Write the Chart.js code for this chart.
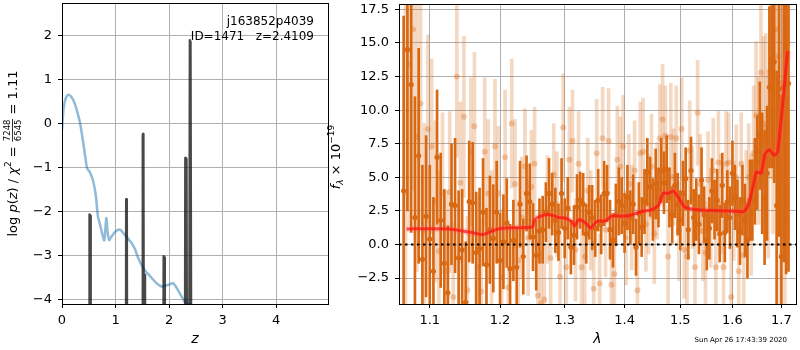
<!DOCTYPE html>
<html><head><meta charset="utf-8">
<script src="https://cdn.jsdelivr.net/npm/chart.js@4.4.1/dist/chart.umd.min.js"></script>
<style>
html,body{margin:0;padding:0;background:#fff;width:800px;height:350px;overflow:hidden;}
#c1{position:absolute;left:0;top:0;}
#c2{position:absolute;left:325px;top:0;}
</style></head><body>
<canvas id="c1" width="340" height="350"></canvas>
<canvas id="c2" width="475" height="350"></canvas>
<script>
// ---------------- data: left panel (redshift PDF) ----------------
const zTicks = [0, 1, 2, 3, 4];
const logpTicks = [-4, -3, -2, -1, 0, 1, 2];
const Z_MIN = 0, Z_MAX = 4.97, LOGP_MIN = -4.11, LOGP_MAX = 2.75;

const priorZ = [0.0,0.03,0.07,0.12,0.18,0.24,0.30,0.34,0.39,0.44,0.47,0.52,0.58,0.63,0.67,0.71,0.76,0.79,0.81,0.83,0.85,0.88,0.92,0.97,1.03,1.09,1.15,1.22,1.30,1.36,1.42,1.50,1.57,1.63,1.70,1.77,1.84,1.90,1.96,2.02,2.07,2.12,2.18,2.24,2.30,2.36,2.45];
const priorLogP = [-0.15,0.35,0.58,0.66,0.60,0.45,0.20,0.0,-0.38,-0.80,-1.02,-1.10,-1.30,-1.62,-2.10,-2.30,-2.55,-2.66,-2.40,-2.15,-2.45,-2.65,-2.58,-2.50,-2.43,-2.42,-2.50,-2.60,-2.72,-2.85,-3.05,-3.25,-3.38,-3.45,-3.55,-3.64,-3.70,-3.71,-3.68,-3.66,-3.63,-3.70,-3.82,-3.95,-4.07,-4.10,-4.15];

const pzZ = [0.0,0.505,0.515,0.525,0.535,1.19,1.20,1.21,1.225,1.495,1.51,1.52,1.535,1.55,1.56,1.885,1.90,1.91,1.92,1.93,2.29,2.305,2.315,2.325,2.345,2.37,2.39,2.40,2.425,4.97];
const pzLogP = [-12,-12,-2.07,-2.10,-12,-12,-1.72,-1.76,-12,-12,-0.25,-0.23,-12,-3.45,-12,-12,-3.02,-3.05,-3.70,-12,-12,-0.78,-1.25,-0.80,-12,-12,1.90,1.86,-12,-12];

const fieldName = 'j163852p4039';
const idLabel = 'ID=1471   z=2.4109';
const chi2Num = '7248', chi2Den = '6545', chi2Ratio = '1.11';

// ---------------- data: right panel (spectrum) ----------------
const lamTicks = [1.1, 1.2, 1.3, 1.4, 1.5, 1.6, 1.7];
const fluxTicks = [-2.5, 0, 2.5, 5, 7.5, 10, 12.5, 15, 17.5];
const LAM_MIN = 1.0589, LAM_MAX = 1.731, FLUX_MIN = -4.43, FLUX_MAX = 17.9;
const zeroLevel = 0;

const darkWave = [1.065,1.070,1.075,1.080,1.085,1.090,1.095,1.100,1.105,1.110,
1.115,1.120,1.125,1.130,1.135,1.140,1.145,1.150,1.155,1.160,
1.165,1.170,1.175,1.180,1.185,1.190,1.195,1.200,1.205,1.210,
1.215,1.220,1.225,1.230,1.235,1.240,1.245,1.250,1.255,1.260,
1.265,1.270,1.275,1.280,1.285,1.290,1.295,1.300,1.305,1.310,
1.315,1.320,1.325,1.330,1.335,1.340,1.345,1.350,1.355,1.360,
1.365,1.370,1.375,1.380,1.385,1.390,1.395,1.400,1.405,1.410,
1.415,1.420,1.425,1.430,1.435,1.440,1.445,1.450,1.455,1.460,
1.465,1.470,1.475,1.480,1.485,1.490,1.495,1.500,1.505,1.510,
1.515,1.520,1.525,1.530,1.535,1.540,1.545,1.550,1.555,1.560,
1.565,1.570,1.575,1.580,1.585,1.590,1.595,1.600,1.605,1.610,
1.615,1.620,1.625,1.630,1.635,1.640,1.645,1.650,1.655,1.660,
1.665,1.670,1.675,1.680,1.685,1.690,1.695,1.700,1.705,1.710,
1.715];
const darkFlux = [4.0,14.5,11.9,2.0,6.6,-1.1,2.1,0.4,-2.0,6.5,
1.8,-1.4,-3.6,3.0,2.9,-1.0,-0.4,-4.3,3.2,3.1,
-0.6,-0.3,2.4,-1.5,1.1,0.45,2.4,-1.2,0.2,1.6,
-1.8,0.3,-1.7,3.0,-0.9,3.8,3.2,0.55,-0.8,1.0,
1.1,2.4,3.8,3.0,1.8,0.9,3.8,1.2,2.7,-0.2,
0.7,2.8,3.3,3.0,0.8,2.4,2.0,1.2,3.3,1.5,
3.8,3.8,1.1,0.3,2.2,3.2,2.9,1.6,3.5,2.0,
3.0,-0.2,2.3,1.3,3.2,5.4,4.3,2.6,4.5,3.5,
5.5,4.6,5.6,3.5,2.2,4.4,3.0,1.8,3.8,4.9,
1.1,5.5,2.0,2.6,1.5,4.8,2.2,0.3,1.2,4.0,
2.6,3.3,0.8,4.4,0.9,3.2,2.0,5.3,3.5,2.3,
1.0,3.3,1.8,0.3,3.3,3.3,4.7,6.1,8.1,5.3,
3.5,5.3,11.7,13.7,13.6,2.9,11.6,-0.9,11.7,10.8,
12.0];
const darkErr = [13,12,11,9,8,7,6,5.5,5.5,5,
5,5.5,5,4.5,5,5,4.5,4.5,4.5,4.5,
4.5,4.5,4,4.2,4,4,3.8,3.5,3.5,3.3,
3.3,3.0,3.0,3.2,2.8,2.8,2.8,2.5,2.6,2.4,
2.5,2.2,2.6,2.3,2.4,2.1,2.6,2.2,2.3,2.0,
2.2,2.4,2.1,2.3,2.2,2.0,2.4,2.1,2.3,2.2,
2.4,2.1,2.2,2.0,2.3,2.5,2.1,2.2,2.4,2.0,
2.2,2.1,2.3,2.2,2.4,2.5,2.2,2.3,2.6,2.2,
2.4,2.3,2.5,2.2,2.1,2.4,2.3,2.2,2.4,2.3,
2.2,2.5,2.1,2.3,2.2,2.4,2.1,2.2,2.3,2.4,
2.2,2.3,2.1,2.4,2.2,2.3,2.3,2.4,2.4,2.5,
2.5,2.6,2.7,2.8,3.0,3.0,3.2,3.5,4,4.5,
5,5,6,8,9,10,11,12,13,13,
14];

const lightWave = [1.0675,1.0725,1.0775,1.0825,1.0875,1.0925,1.0975,1.1025,1.1075,1.1125,
1.1175,1.1225,1.1275,1.1325,1.1375,1.1425,1.1475,1.1525,1.1575,1.1625,
1.1675,1.1725,1.1775,1.1825,1.1875,1.1925,1.1975,1.2025,1.2075,1.2125,
1.2175,1.2225,1.2275,1.2325,1.2375,1.2425,1.2475,1.2525,1.2575,1.2625,
1.2675,1.2725,1.2775,1.2825,1.2875,1.2925,1.2975,1.3025,1.3075,1.3125,
1.3175,1.3225,1.3275,1.3325,1.3375,1.3425,1.3475,1.3525,1.3575,1.3625,
1.3675,1.3725,1.3775,1.3825,1.3875,1.3925,1.3975,1.4025,1.4075,1.4125,
1.4175,1.4225,1.4275,1.4325,1.4375,1.4425,1.4475,1.4525,1.4575,1.4625,
1.4675,1.4725,1.4775,1.4825,1.4875,1.4925,1.4975,1.5025,1.5075,1.5125,
1.5175,1.5225,1.5275,1.5325,1.5375,1.5425,1.5475,1.5525,1.5575,1.5625,
1.5675,1.5725,1.5775,1.5825,1.5875,1.5925,1.5975,1.6025,1.6075,1.6125,
1.6175,1.6225,1.6275,1.6325,1.6375,1.6425,1.6475,1.6525,1.6575,1.6625,
1.6675,1.6725,1.6775,1.6825,1.6875,1.6925,1.6975,1.7025,1.7075,1.7125];
const lightFlux = [3.9,13.4,16.0,8.0,10.5,1.0,8.6,7.3,3.2,-0.5,
3.8,-2.0,3.9,-3.9,12.5,4.6,9.5,-3.4,6.9,8.8,
-1.7,-3.5,6.9,3.8,0.5,7.3,3.8,-2.4,6.5,-3.2,
9.0,4.5,-1.2,2.0,5.8,0.5,4.3,6.0,-3.8,-4.4,
-4.1,2.6,-1.0,5.2,3.0,-2.4,8.7,-1.7,6.3,7.7,
-0.4,6.0,-1.7,-0.9,4.0,1.8,-3.3,6.8,-2.9,7.9,
1.1,7.7,-3.0,-2.2,6.3,5.8,7.3,0.5,4.5,2.0,
5.5,-3.4,6.8,6.9,1.5,3.0,5.8,0.8,4.0,7.9,
9.3,8.1,-0.9,8.0,5.0,7.9,1.0,8.6,-0.4,-0.9,
7.0,3.5,-1.7,9.8,4.5,1.0,-0.6,4.8,2.0,5.5,
-1.7,6.1,3.0,-1.7,6.0,6.1,-3.9,2.5,5.0,-2.0,
6.0,-0.8,3.0,5.0,2.2,6.8,9.6,7.0,12.8,9.0,
8.7,6.0,12.9,9.8,16.0,14.0,7.0,12.0,5.0,15.0];
const lightErr = [14,12,12,10,9,8,7,6.5,6,6,
6,6,6,5.5,6,6,6,5.5,5.5,5.5,
5.5,5.5,5.5,5.5,5,5,5,5,5,5,
4.8,4.8,4.5,4.5,4.3,4.3,4.2,4.2,4,4,
4,4,3.9,3.8,3.9,3.8,4,3.8,3.9,3.8,
3.8,3.9,3.6,3.5,3.9,3.7,3.6,4.0,3.7,3.8,
3.5,3.9,3.7,3.6,4.0,3.7,3.8,3.5,3.7,3.9,
3.7,3.6,3.8,4.0,3.5,3.7,3.9,3.7,3.6,4.0,
4.1,3.7,3.8,4.0,3.6,3.9,3.7,3.8,3.6,3.7,
3.7,3.8,3.6,3.9,3.7,3.7,3.8,3.6,3.7,3.9,
3.7,3.8,3.7,3.6,3.9,3.7,3.8,3.7,3.9,3.7,
3.8,3.9,4,4,4.5,5,5.5,5.5,6,6.5,
7,7,8,9,10,10,12,13,14,14];

const modelWave = [1.0688,1.127,1.146,1.162,1.175,1.194,1.2085,1.249,1.252,1.259,1.275,1.291,1.300,1.312,1.316,1.323,1.334,1.342,1.353,1.367,1.378,1.395,1.412,1.427,1.448,1.460,1.469,1.478,1.487,1.496,1.508,1.527,1.546,1.610,1.623,1.633,1.644,1.648,1.658,1.666,1.675,1.685,1.692,1.702,1.713];
const modelFlux = [1.16,1.16,1.01,0.85,0.74,1.11,1.23,1.30,1.80,2.05,2.23,2.00,1.98,1.68,1.38,1.86,1.60,1.23,1.73,1.75,2.12,2.10,2.20,2.42,2.60,2.92,3.83,3.80,3.98,3.53,2.79,2.60,2.55,2.47,2.45,3.04,4.77,5.39,5.30,6.76,7.05,6.63,6.88,10.2,14.4];

const stamp = 'Sun Apr 26 17:43:39 2020';

// ---------------- helpers ----------------
const FONT = "'DejaVu Sans', 'Liberation Sans', sans-serif";
Chart.defaults.font.family = FONT;
Chart.defaults.color = '#000';
const GRID = '#b0b0b0';
const minus = s => String(s).replace('-', '\u2212');
const DARK = 'rgb(216,104,18)';
const LIGHT_BAR = 'rgba(216,104,18,0.26)';
const LIGHT_PT = 'rgba(216,104,18,0.32)';

function alignPx(v){ return Math.round(v - 0.5) + 0.5; }

function drawBox(chart){
  const a = chart.chartArea, ctx = chart.ctx;
  ctx.save();
  ctx.strokeStyle = '#000'; ctx.lineWidth = 1;
  const l = alignPx(a.left), r = alignPx(a.right), t = alignPx(a.top), b = alignPx(a.bottom);
  ctx.strokeRect(l, t, r - l, b - t);
  ctx.restore();
}

function drawRich(ctx, segs, cx, cy){
  ctx.save();
  ctx.translate(cx, cy);
  ctx.rotate(-Math.PI/2);
  let total = 0;
  segs.forEach(s => {
    ctx.font = s.font;
    if (s.frac) s.w = Math.max(ctx.measureText(s.num).width, ctx.measureText(s.den).width) + 2;
    else s.w = ctx.measureText(s.t).width;
    total += s.w;
  });
  let x = -total/2;
  ctx.fillStyle = '#000';
  ctx.textBaseline = 'alphabetic';
  segs.forEach(s => {
    ctx.font = s.font;
    if (s.frac){
      ctx.textAlign = 'center';
      ctx.fillText(s.num, x + s.w/2, s.yNum);
      ctx.fillText(s.den, x + s.w/2, s.yDen);
      ctx.fillRect(x + 0.5, s.yBar, s.w - 1, 0.8);
    } else {
      ctx.textAlign = 'left';
      ctx.fillText(s.t, x, s.y);
    }
    x += s.w;
  });
  ctx.restore();
}

const N = '13px ' + FONT, I = 'italic 13px ' + FONT, S = '9px ' + FONT, SI = 'italic 9px ' + FONT, F = '8.5px ' + FONT;

const leftDecor = {
  id: 'leftDecor',
  afterDraw(chart){
    drawBox(chart);
    const ctx = chart.ctx, a = chart.chartArea;
    ctx.save();
    ctx.fillStyle = '#000';
    ctx.font = '12px ' + FONT;
    ctx.textAlign = 'right';
    ctx.textBaseline = 'alphabetic';
    ctx.fillText(fieldName, a.right - 14, a.top + 22);
    ctx.fillText(idLabel, a.right - 14, a.top + 36.5);
    ctx.restore();
    const bl = 4.5;
    drawRich(ctx, [
      {t:'log ', font:N, y:bl},
      {t:'p', font:I, y:bl},
      {t:'(', font:N, y:bl},
      {t:'z', font:I, y:bl},
      {t:') / ', font:N, y:bl},
      {t:'\u03c7', font:I, y:bl},
      {t:'2', font:S, y:bl-5.5},
      {t:' = ', font:N, y:bl},
      {frac:true, num:chi2Num, den:chi2Den, font:F, yNum:-2, yDen:8.5, yBar:0},
      {t:' = ' + chi2Ratio, font:N, y:bl}
    ], 12, (a.top + a.bottom)/2);
  }
};

const rightDecor = {
  id: 'rightDecor',
  afterDraw(chart){
    drawBox(chart);
    const ctx = chart.ctx, a = chart.chartArea;
    const bl = 4.5;
    drawRich(ctx, [
      {t:'f', font:I, y:bl},
      {t:'\u03bb', font:SI, y:bl+3},
      {t:' \u00d7 10', font:N, y:bl},
      {t:'\u221219', font:S, y:bl-5.5}
    ], 10, (a.top + a.bottom)/2 + 3);
    ctx.save();
    ctx.fillStyle = '#000';
    ctx.font = '7px ' + FONT;
    ctx.textAlign = 'right';
    ctx.textBaseline = 'alphabetic';
    ctx.fillText(stamp, chart.width - 13, 342);
    ctx.restore();
  }
};

const tickFont = {size: 13, family: FONT};
const noPadX = s => { s.height = 46; s.paddingLeft = 0; s.paddingRight = 0; };

// ---------------- left chart ----------------
new Chart(document.getElementById('c1'), {
  type: 'scatter',
  data: {
    datasets: [
      {type:'line', data: pzZ.map((z,i)=>({x:z, y:pzLogP[i]})), borderColor:'rgba(20,20,20,0.78)', borderWidth:2.5, pointRadius:0, tension:0, clip:0, borderJoinStyle:'round'},
      {type:'line', data: priorZ.map((z,i)=>({x:z, y:priorLogP[i]})), borderColor:'rgba(31,119,180,0.5)', borderWidth:2.5, pointRadius:0, tension:0.3, clip:0}
    ]
  },
  options: {
    responsive:false, animation:false, events:[],
    layout:{padding:{left:0, right:12, top:3, bottom:0}},
    plugins:{legend:{display:false}, tooltip:{enabled:false}},
    scales:{
      x:{type:'linear', min:Z_MIN, max:Z_MAX,
        afterBuildTicks: s => { s.ticks = zTicks.map(v=>({value:v})); },
        afterFit: noPadX,
        grid:{color:GRID, lineWidth:1, tickColor:'#000', tickLength:4},
        border:{color:'#000', width:1},
        ticks:{font:tickFont, color:'#000', padding:5, maxRotation:0, callback: v => minus(v)},
        title:{display:true, text:'z', font:{size:14, style:'italic', family:FONT}, color:'#000', padding:{top:0, bottom:2}}
      },
      y:{type:'linear', min:LOGP_MIN, max:LOGP_MAX,
        afterBuildTicks: s => { s.ticks = logpTicks.map(v=>({value:v})); },
        afterFit: s => { s.width = 62; s.paddingTop = 0; s.paddingBottom = 0; },
        grid:{color:GRID, lineWidth:1, tickColor:'#000', tickLength:4},
        border:{color:'#000', width:1},
        ticks:{font:tickFont, color:'#000', padding:6, callback: v => minus(v)}
      }
    }
  },
  plugins:[leftDecor]
});

// ---------------- right chart ----------------
new Chart(document.getElementById('c2'), {
  type: 'scatter',
  data: {
    datasets: [
      {type:'line', data:[{x:LAM_MIN, y:zeroLevel},{x:LAM_MAX, y:zeroLevel}], borderColor:'#000', borderWidth:2, borderDash:[2.5,3.5], pointRadius:0, clip:0},
      {type:'line', data: modelWave.map((w,i)=>({x:w, y:modelFlux[i]})), borderColor:'rgba(255,10,10,0.68)', borderWidth:3, pointRadius:0, tension:0.2, clip:0},
      {type:'line', data: modelWave.map((w,i)=>({x:w, y:modelFlux[i]})), borderColor:'rgba(255,90,90,0.22)', borderWidth:7, pointRadius:0, tension:0.2, clip:0},
      {type:'scatter', data: darkWave.map((w,i)=>({x:w, y:darkFlux[i]})), pointRadius:2.6, pointBorderWidth:0, backgroundColor:DARK, borderColor:DARK, clip:0},
      {type:'bar', data: darkWave.map((w,i)=>({x:w, y:[darkFlux[i]-darkErr[i], darkFlux[i]+darkErr[i]]})), backgroundColor:DARK, borderWidth:0, barThickness:2, grouped:false, clip:0},
      {type:'scatter', data: lightWave.map((w,i)=>({x:w, y:lightFlux[i]})), pointRadius:3, pointBorderWidth:0, backgroundColor:LIGHT_PT, borderColor:LIGHT_PT, clip:0},
      {type:'bar', data: lightWave.map((w,i)=>({x:w, y:[lightFlux[i]-lightErr[i], lightFlux[i]+lightErr[i]]})), backgroundColor:LIGHT_BAR, borderWidth:0, barThickness:3, grouped:false, clip:0}
    ]
  },
  options: {
    responsive:false, animation:false, events:[],
    layout:{padding:{left:0, right:1, top:3, bottom:0}},
    plugins:{legend:{display:false}, tooltip:{enabled:false}},
    scales:{
      x:{type:'logarithmic', min:LAM_MIN, max:LAM_MAX, offset:false,
        afterBuildTicks: s => { s.ticks = lamTicks.map(v=>({value:v})); },
        afterFit: noPadX,
        grid:{color:GRID, lineWidth:1, tickColor:'#000', tickLength:4, offset:false},
        border:{color:'#000', width:1},
        ticks:{font:tickFont, color:'#000', padding:5, maxRotation:0, autoSkip:false, callback: v => Number(v).toFixed(1)},
        title:{display:true, text:'\u03bb', font:{size:14, style:'italic', family:FONT}, color:'#000', padding:{top:0, bottom:2}}
      },
      y:{type:'linear', min:FLUX_MIN, max:FLUX_MAX,
        afterBuildTicks: s => { s.ticks = fluxTicks.map(v=>({value:v})); },
        afterFit: s => { s.width = 74; s.paddingTop = 0; s.paddingBottom = 0; },
        grid:{color:GRID, lineWidth:1, tickColor:'#000', tickLength:4},
        border:{color:'#000', width:1},
        ticks:{font:tickFont, color:'#000', padding:6, callback: v => minus(Number(v).toFixed(1))}
      }
    }
  },
  plugins:[rightDecor]
});
</script>
</body></html>
